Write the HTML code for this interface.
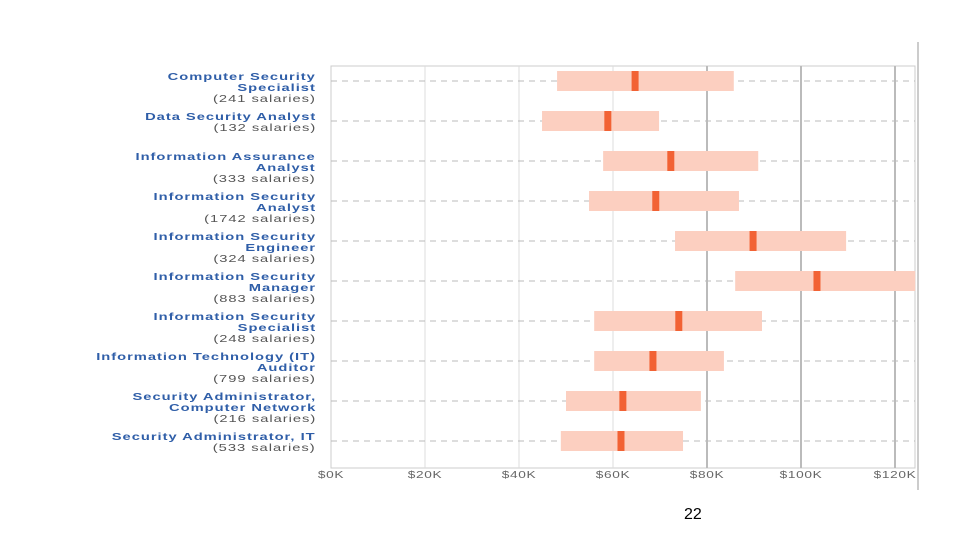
<!DOCTYPE html>
<html><head><meta charset="utf-8"><style>
body{margin:0;width:960px;height:540px;background:#fff;overflow:hidden;font-family:"Liberation Sans",sans-serif}
.lab{position:absolute;right:644px;text-align:right;font-size:10.5px;line-height:10.8px;letter-spacing:0.7px;transform:scaleX(1.4);transform-origin:right top;white-space:nowrap}
.lab b{color:#2f5ea8}
.lab span{color:#555}
.tick{position:absolute;top:469px;font-size:10.5px;color:#666;transform:translateX(-50%) scaleX(1.3);letter-spacing:0.5px}
</style></head><body>
<svg id="chart" width="960" height="540" style="position:absolute;left:0;top:0"></svg>
<div id="labels"></div>
<div style="position:absolute;left:684px;top:506px;font-size:16px;color:#000">22</div>
<script>
const titles=[["Computer Security","Specialist"],["Data Security Analyst"],["Information Assurance","Analyst"],["Information Security","Analyst"],["Information Security","Engineer"],["Information Security","Manager"],["Information Security","Specialist"],["Information Technology (IT)","Auditor"],["Security Administrator,","Computer Network"],["Security Administrator, IT"]];
const counts=[241,132,333,1742,324,883,248,799,216,533];
const lows=[48.1,44.9,57.9,54.9,73.2,86,56,56,50,48.9];
const medians=[64.7,58.9,72.3,69.1,89.8,103.4,74,68.5,62.1,61.7];
const highs=[85.7,69.8,90.9,86.8,109.6,124.3,91.7,83.6,78.7,74.9];
const ticks=[0,20,40,60,80,100,120];
const NS="http://www.w3.org/2000/svg";
const svg=document.getElementById('chart');
const X=v=>331+v*4.7, Y=i=>81+i*40;
function mk(t,a){const e=document.createElementNS(NS,t);for(const k in a)e.setAttribute(k,a[k]);svg.appendChild(e);return e;}
let f=mk('rect',{x:331,y:66,width:584,height:402,fill:'none',stroke:'#ccc'});


let r=mk('line',{x1:918,y1:42,x2:918,y2:490,stroke:'#ccc','stroke-width':2});


ticks.forEach(t=>{
 if(t>0){let g=mk('line',{x1:X(t),y1:66,x2:X(t),y2:468,stroke:t>=80?'#bbb':'#ddd','stroke-width':t>=80?2:1});
 
 }
 const d=document.createElement('div');d.className='tick';d.style.left=X(t)+'px';d.textContent='$'+t+'K';
 
 
 document.body.appendChild(d);
});
const L=document.getElementById('labels');
titles.forEach((tt,i)=>{
 let l=mk('line',{x1:331,y1:Y(i),x2:915,y2:Y(i),stroke:'#bbb','stroke-dasharray':'6,5'});
 
 
 let b=mk('rect',{x:X(lows[i]),y:Y(i)-10,width:X(highs[i])-X(lows[i]),height:20,fill:'#fccfc0'});
 
 
 let m=mk('rect',{x:X(medians[i])-3.5,y:Y(i)-10,width:7,height:20,fill:'#f26234'});
 
 
 const d=document.createElement('div');d.className='lab';
 d.style.top=(Y(i)-9)+'px';
 d.innerHTML=tt.map(s=>'<b>'+s+'</b>').join('<br>')+'<br><span>('+counts[i]+' salaries)</span>';
 
 
 L.appendChild(d);
});
</script>
</body></html>
